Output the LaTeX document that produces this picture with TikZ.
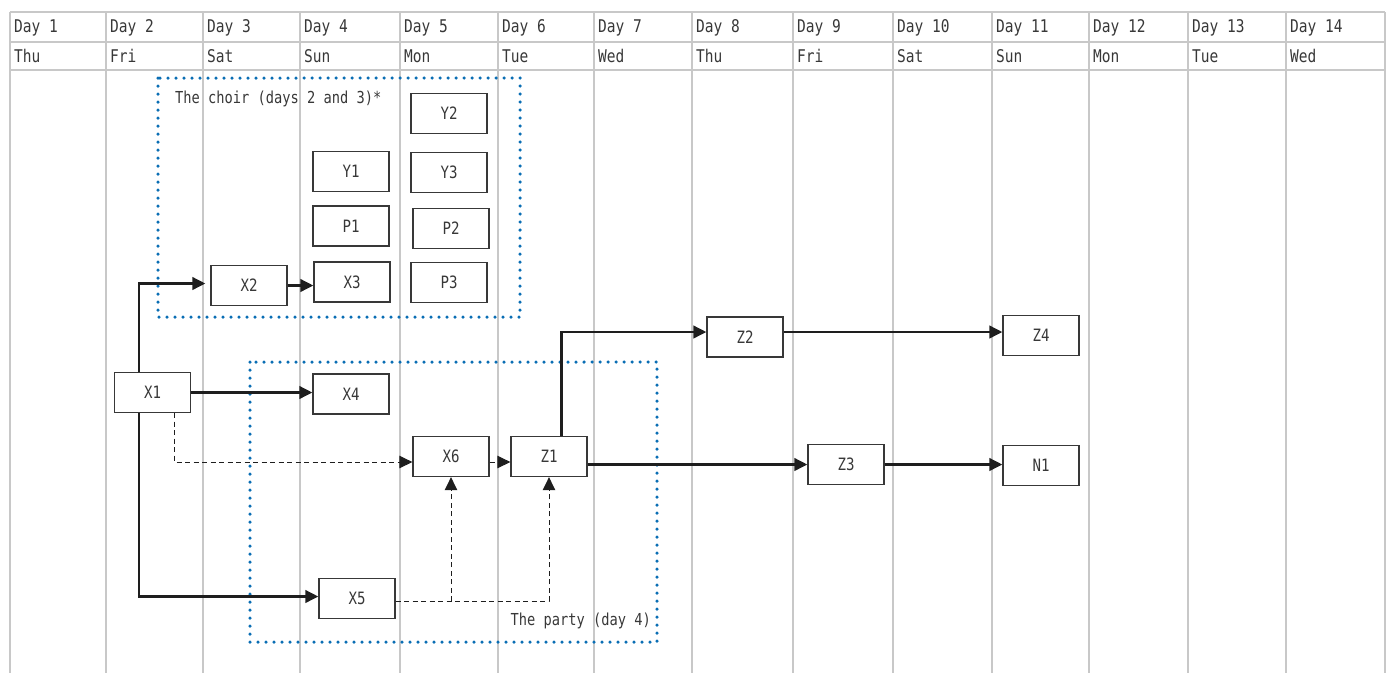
\documentclass[tikz,border=0pt]{standalone}
\usepackage{fontspec}
\setmainfont[FakeStretch=0.83]{DejaVu Sans Mono}
\usetikzlibrary{arrows.meta,calc}
\definecolor{gridc}{HTML}{C8C8C8}
\definecolor{boxc}{HTML}{383838}
\definecolor{arrc}{HTML}{1E1E1E}
\definecolor{bluec}{HTML}{0A6EB4}
\tikzset{
  task/.style={draw=boxc, line width=1.3pt, fill=white, minimum width=76pt, minimum height=40pt, inner sep=0pt, font=\fontsize{17}{19}\selectfont, text=boxc},
  hdr/.style={anchor=west, inner sep=0pt, font=\fontsize{17.5}{19}\selectfont, text=boxc},
  gridline/.style={draw=gridc, line width=1.1pt},
  solidarr/.style={draw=arrc, line width=2.5pt, -{Triangle[length=13pt,width=12.5pt]}},
  dasharr/.style={draw=arrc, line width=1pt, dash pattern=on 5pt off 3.5pt, -{Triangle[length=13pt,width=12.5pt]}},
  groupbox/.style={draw=bluec, line width=3.5pt, line cap=round, dash pattern=on 0pt off 8pt},
  grouplabel/.style={inner sep=0pt, font=\fontsize{16.5}{19}\selectfont, text=boxc}
}
\begin{document}
\begin{tikzpicture}[x=1pt,y=-1pt]
\useasboundingbox (0,0) rectangle (1391,673);
% grid
\foreach \xx in {10,106,203,300,400,498,594,692,793,893,992,1089,1188,1286,1385}
  \draw[gridline] (\xx,12) -- (\xx,673);
\foreach \yy in {12,42,70}
  \draw[gridline] (10,\yy) -- (1385,\yy);
% headers
\foreach \xx/\dd/\ww [count=\i] in {10/1/Thu,106/2/Fri,203/3/Sat,300/4/Sun,400/5/Mon,498/6/Tue,594/7/Wed,692/8/Thu,793/9/Fri,893/10/Sat,992/11/Sun,1089/12/Mon,1188/13/Tue,1286/14/Wed}{
  \node[hdr] (d\i) at (\xx+4,28) {Day \dd};
  \node[hdr] (w\i) at (\xx+4,56) {\ww};
}
% group boxes
\draw[groupbox] (158,78) rectangle (520,317);
\node[grouplabel, anchor=west] (choirlbl) at (175,99) {The choir (days 2 and 3)*};
\draw[groupbox] (250,362) rectangle (657,642);
\node[grouplabel, anchor=east] (partylbl) at (651,621) {The party (day 4)};
% tasks
\node[task] (X2) at (249,285.5) {X2};
\node[task] (X3) at (352,282) {X3};
\node[task] (Y1) at (351,171.5) {Y1};
\node[task] (P1) at (351,226) {P1};
\node[task] (Y2) at (449,113.5) {Y2};
\node[task] (Y3) at (449,172.5) {Y3};
\node[task] (P2) at (451,228.5) {P2};
\node[task] (P3) at (449,282.5) {P3};
\node[task] (X1) at (152.5,392.5) {X1};
\node[task] (X4) at (351,394) {X4};
\node[task] (X6) at (451,456.5) {X6};
\node[task] (Z1) at (549,456.5) {Z1};
\node[task] (X5) at (357,598.5) {X5};
\node[task] (Z2) at (745,337) {Z2};
\node[task] (Z4) at (1041,335.5) {Z4};
\node[task] (Z3) at (846,464.5) {Z3};
\node[task] (N1) at (1041,465.5) {N1};
% connectors
\draw[solidarr, shorten >=5pt] ([xshift=25pt]X1.north west) |- ([yshift=2pt]X2.west);
\draw[solidarr] (X2.east) -- (X2.east -| X3.west);
\draw[solidarr] (X1.east) -- (X1.east -| X4.west);
\draw[solidarr] ([xshift=25pt]X1.south west) |- ([yshift=2pt]X5.west);
\draw[dasharr] ([xshift=22pt]X1.south) |- ([yshift=-5.5pt]X6.west);
\draw[dasharr] ([yshift=-5.5pt]X6.east) -- ([yshift=-5.5pt]Z1.west);
\draw[dasharr] ([yshift=-2.5pt]X5.east) -| (Z1.south);
\draw[dasharr] ([yshift=-2.5pt]X5.east -| X6.south) -- (X6.south);
\draw[solidarr] ([xshift=51pt]Z1.north west) |- ([yshift=5pt]Z2.west);
\draw[solidarr] ([yshift=5pt]Z2.east) -- ([yshift=5pt]Z2.east -| Z4.west);
\draw[solidarr] (Z3.west -| Z1.east) -- (Z3.west);
\draw[solidarr] (Z3.east) -- (Z3.east -| N1.west);
\end{tikzpicture}
\end{document}
